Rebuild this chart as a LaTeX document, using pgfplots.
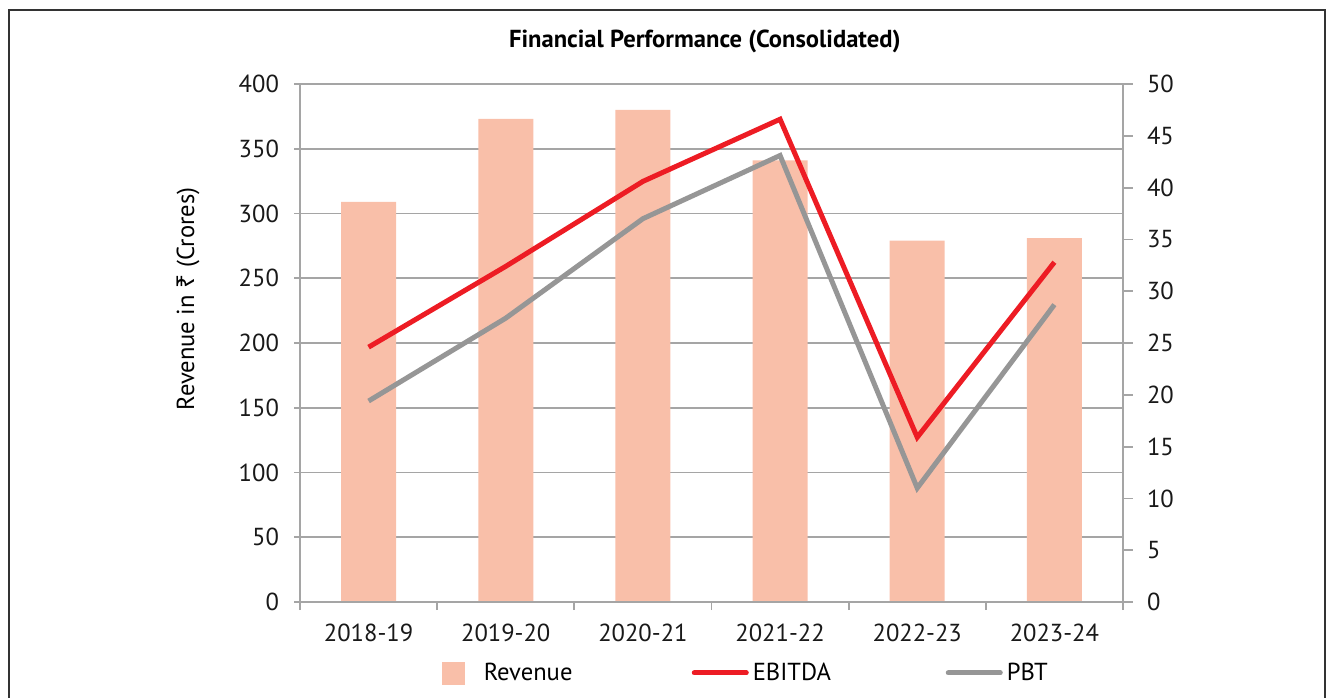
\documentclass[border=0pt]{standalone}
\usepackage{pgfplots}
\pgfplotsset{compat=1.18}
\usepackage{fontspec}
\setmainfont{PT Sans}
\newfontfamily\rupeefont{Noto Sans}
\definecolor{barc}{RGB}{249,191,169}
\definecolor{ebit}{RGB}{237,28,36}
\definecolor{pbt}{RGB}{150,150,150}
\definecolor{gridc}{RGB}{165,165,165}
\begin{document}
\begin{tikzpicture}
\useasboundingbox (0,0) rectangle (667pt,-348.5pt);
\draw[line width=1pt, black!80] (4.5pt,-352pt) -- (4.5pt,-5pt) -- (662.5pt,-5pt) -- (662.5pt,-352pt);
\pgfplotsset{common/.style={
  scale only axis, width=411.5pt, height=259pt,
  at={(150pt,-301pt)}, anchor=south west,
  xmin=-0.5, xmax=5.5,
  tick label style={font=\fontsize{12.3}{14}\selectfont, text=black!90},
  /pgf/number format/assume math mode=true,
  axis line style={gridc, line width=0.9pt},
  every tick/.style={gridc, line width=0.9pt},
  tick align=outside,
}}
\begin{axis}[common,
  ymin=0, ymax=400, ytick={0,50,...,400},
  ytick pos=left,
  xtick pos=bottom,
  xtick={0,1,2,3,4,5},
  xticklabels={2018-19,2019-20,2020-21,2021-22,2022-23,2023-24},
  major x tick style={draw=none},
  minor xtick={-0.5,0.5,1.5,2.5,3.5,4.5,5.5},
  major tick length=3pt, minor tick length=4pt,
  ymajorgrids, major grid style={gridc, line width=0.9pt},
  yticklabel style={xshift=-4pt},
  xticklabel style={yshift=-4.5pt},
  ylabel={Revenue in {\rupeefont ₹} (Crores)},
  ylabel style={font=\fontsize{12.3}{14}\selectfont, at={(rel axis cs:-0.136,0.585)}, anchor=center},
  title={\textbf{Financial Performance (Consolidated)}},
  title style={font=\fontsize{12.3}{14}\selectfont, at={(rel axis cs:0.492,1.06)}, anchor=center},
]
\addplot[ybar, bar width=27.5pt, fill=barc, draw=none] coordinates {(0,309) (1,373) (2,380) (3,341) (4,279) (5,281)};
\end{axis}
\begin{axis}[common,
  ymin=0, ymax=50, ytick={0,5,...,50},
  ytick pos=right, yticklabel pos=right,
  xtick=\empty,
  major tick length=5pt,
  yticklabel style={xshift=3.5pt},
  legend columns=3,
  legend style={at={(rel axis cs:0.1725,-0.1369)}, anchor=west, draw=none, fill=none,
    inner sep=0pt, outer sep=0pt, font=\fontsize{12.3}{14}\selectfont,
    nodes={inner sep=0pt, outer sep=0pt, anchor=west},
    /tikz/every even column/.append style={column sep=0pt},
    /tikz/every odd column/.append style={column sep=0pt}},
  legend image code/.code={\draw[#1, line cap=round] (0pt,0pt) -- (26pt,0pt);},
]
\addlegendimage{legend image code/.code={\fill[barc] (0pt,-5.5pt) rectangle (11pt,5.5pt);}}
\addlegendentry{\makebox[113.5pt][l]{\hspace{9.5pt}Revenue}}
\addplot[ebit, line width=2.5pt] coordinates {(0,24.6) (1,32.4) (2,40.6) (3,46.6) (4,15.9) (5,32.8)};
\addlegendentry{\makebox[98.5pt][l]{\hspace{2pt}EBITDA}}
\addplot[pbt, line width=2.5pt] coordinates {(0,19.4) (1,27.4) (2,37.0) (3,43.1) (4,11.0) (5,28.7)};
\addlegendentry{\hspace{2pt}PBT}
\end{axis}
\end{tikzpicture}
\end{document}
